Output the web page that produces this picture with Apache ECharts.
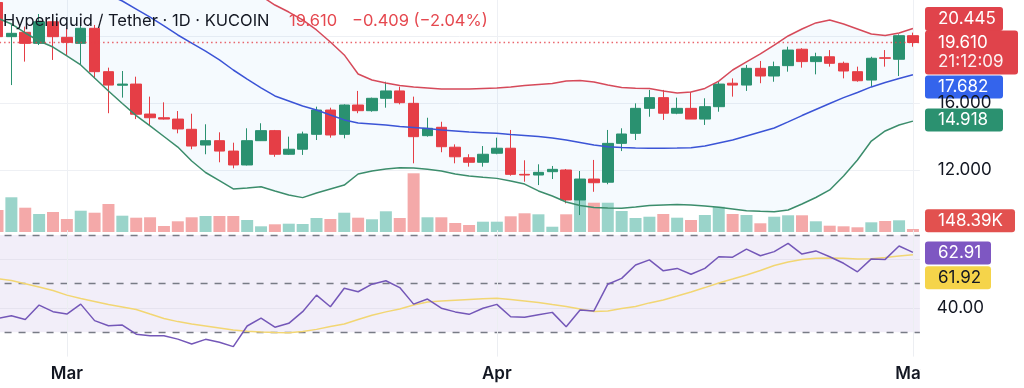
<!DOCTYPE html>
<html><head><meta charset="utf-8">
<script src="https://cdn.jsdelivr.net/npm/echarts@6/dist/echarts.min.js"></script>
<style>html,body{margin:0;padding:0;background:#fff;}#c{width:1024px;height:388px;}</style>
</head><body><div id="c"></div>
<script>
// ---------- DATA ----------
const titleText = 'Hyperliquid / Tether · 1D · KUCOIN';
const countdownText = '21:12:09';
const dates = ['02-24','02-25','02-26','02-27','02-28',
 '03-01','03-02','03-03','03-04','03-05','03-06','03-07','03-08','03-09','03-10',
 '03-11','03-12','03-13','03-14','03-15','03-16','03-17','03-18','03-19','03-20',
 '03-21','03-22','03-23','03-24','03-25','03-26','03-27','03-28','03-29','03-30','03-31',
 '04-01','04-02','04-03','04-04','04-05','04-06','04-07','04-08','04-09','04-10',
 '04-11','04-12','04-13','04-14','04-15','04-16','04-17','04-18','04-19','04-20',
 '04-21','04-22','04-23','04-24','04-25','04-26','04-27','04-28','04-29','04-30','05-01'];
const opens = [22.00,19.96,20.22,19.56,20.85,19.92,19.56,20.46,17.87,17.06,
 17.13,15.34,15.12,15.04,14.43,13.49,13.75,13.13,12.30,13.75,
 14.35,12.94,13.24,14.13,15.58,14.13,15.88,15.54,16.28,16.72,
 15.98,14.05,14.55,13.36,12.73,12.46,13.00,13.30,11.74,11.70,
 11.90,12.00,10.21,11.46,11.27,13.59,14.19,15.68,16.32,15.39,
 15.68,15.04,15.78,17.18,17.07,18.07,17.61,18.23,19.21,18.47,
 18.76,18.37,17.87,17.37,18.70,18.61,20.019];
const highs = [22.30,20.66,20.56,21.31,21.31,20.46,20.66,20.66,18.11,17.91,
 17.57,16.38,16.04,15.52,15.36,14.73,14.25,13.63,14.49,14.79,
 14.39,13.99,14.29,15.78,15.72,15.92,16.72,16.32,17.27,16.97,
 16.38,15.12,14.88,13.53,12.94,13.43,13.93,14.39,12.58,12.34,
 12.24,12.06,11.94,12.60,14.39,14.49,15.98,16.78,16.78,16.32,
 16.67,16.28,17.27,17.47,18.27,18.51,18.47,19.36,19.27,19.00,
 19.16,18.47,18.17,18.76,19.16,20.10,20.20];
const lows = [19.80,17.07,18.47,19.46,18.57,18.87,18.27,17.47,15.39,16.32,
 15.04,14.63,15.01,14.19,13.24,12.94,12.46,12.10,12.27,13.73,
 12.79,12.90,12.90,13.79,13.93,13.89,15.39,15.48,15.72,15.92,
 12.40,13.99,13.06,12.40,12.20,12.20,12.94,11.66,11.30,11.10,
 11.46,10.01,9.31,10.70,11.15,13.13,13.79,15.18,14.99,15.33,
 15.04,14.69,15.48,16.38,16.72,17.18,17.27,17.87,18.11,17.71,
 18.17,17.47,17.27,16.97,18.17,17.61,19.36];
const closes = [19.96,20.16,19.56,20.85,19.96,19.62,20.46,17.87,17.07,17.13,
 15.33,15.12,15.04,14.45,13.43,13.75,13.13,12.30,13.75,14.35,
 12.94,13.24,14.15,15.58,14.09,15.88,15.54,16.28,16.72,16.02,
 13.99,14.49,13.39,12.79,12.46,12.94,13.30,11.74,11.70,11.86,
 12.04,10.21,11.46,11.24,13.59,14.15,15.68,16.32,15.39,15.68,
 15.04,15.78,17.13,17.07,18.07,17.61,18.17,19.16,18.47,18.76,
 18.37,17.91,17.33,18.67,18.67,20.019,19.61];
const volumesK = [1089,1718,1203,891,990,644,1054,955,1386,807,
 708,728,297,530,728,792,792,792,594,282,
 381,411,396,693,644,955,708,629,1025,693,
 2906,728,728,446,347,510,510,777,926,876,
 262,876,1584,1450,1450,1040,693,757,891,708,
 594,842,1252,891,842,431,757,827,827,530,
 312,282,233,480,545,579,148.39];
const bbUpper = [28.12,27.88,27.64,27.40,27.16,26.93,26.69,26.45,26.21,25.97,
 25.73,25.49,25.19,24.90,24.60,24.24,23.82,23.40,22.93,22.39,
 21.85,21.43,20.96,20.36,19.64,18.87,17.73,17.37,17.19,17.04,
 16.96,16.90,16.84,16.84,16.84,16.87,16.90,16.96,17.04,17.10,
 17.16,17.31,17.34,17.25,17.07,16.93,16.88,16.87,16.72,16.60,
 16.66,16.87,17.31,17.97,18.45,18.93,19.46,20.00,20.42,20.78,
 20.96,20.72,20.42,20.12,20.03,20.18,20.445];
const bbBasis = [26.63,26.09,25.55,25.01,24.48,23.94,23.40,22.87,22.45,22.09,
 21.61,21.13,20.60,20.06,19.58,19.10,18.57,17.97,17.43,16.90,
 16.42,16.12,15.82,15.58,15.28,14.99,14.81,14.75,14.69,14.60,
 14.54,14.48,14.39,14.33,14.27,14.23,14.19,14.12,14.06,14.00,
 13.91,13.79,13.64,13.49,13.39,13.34,13.31,13.30,13.30,13.31,
 13.33,13.43,13.61,13.79,14.03,14.27,14.51,14.87,15.25,15.61,
 15.97,16.32,16.63,16.96,17.22,17.46,17.682];
const bbLower = [21.07,20.72,20.18,19.70,19.34,18.81,18.27,17.49,16.72,15.97,
 15.25,14.63,14.00,13.37,12.54,11.85,11.37,10.87,10.93,11.00,
 10.75,10.51,10.35,10.63,10.87,11.10,11.76,11.94,12.06,12.14,
 12.12,12.04,11.94,11.76,11.64,11.56,11.50,11.34,11.16,10.75,
 10.45,10.09,9.88,9.76,9.73,9.71,9.79,9.88,9.91,9.94,
 9.91,9.85,9.77,9.67,9.57,9.53,9.51,9.61,9.97,10.36,
 10.81,11.64,12.60,13.73,14.33,14.69,14.918];
const rsi = [35.7,36.8,35.3,41.2,38.5,37.5,41.6,34.8,32.7,33.0,
 29.2,28.6,28.6,27.2,25.2,27.1,25.9,24.1,32.6,35.8,
 32.1,33.7,38.5,45.3,40.5,48.1,46.7,49.8,51.2,48.4,
 41.6,43.7,39.9,38.4,37.4,39.9,41.5,36.4,36.2,37.2,
 38.2,32.3,39.2,38.8,49.8,52.2,57.7,59.8,55.3,56.3,
 53.9,56.3,61.1,60.9,64.2,61.5,63.2,66.6,62.2,63.5,
 61.1,58.4,54.9,60.2,60.0,65.5,62.91];
const rsiMa = [52.1,51.3,50.0,48.6,47.2,45.3,43.9,42.7,41.4,40.4,
 39.4,37.5,35.7,34.4,33.4,32.6,31.8,30.9,30.4,30.1,
 29.9,29.8,30.3,31.2,32.4,33.4,35.3,37.0,38.4,39.6,
 41.2,42.5,42.9,43.2,43.5,43.8,44.0,43.5,42.9,42.3,
 41.4,40.6,39.6,38.6,38.8,39.8,40.6,42.1,43.3,44.9,
 46.6,48.4,50.3,51.9,53.6,55.4,57.5,58.9,60.0,60.5,
 60.6,60.5,60.2,60.3,60.8,61.4,61.92];
const monthTicks = ['03-01','04-01','05-01'];
const monthLabels = ['Mar','Apr','May'];
const priceTicks = [12, 16];
const priceGridLines = [12, 16, 20];
const rsiTicks = [40];
const rsiBands = [70, 50, 30];
const rsiGridLines = [60, 40];

// ---------- STYLE ----------
const GREEN = '#2a9170', RED = '#e53e46';
const VOL_UP = '#9ad4ca', VOL_DN = '#f4a9a9';
const FONT = 'Inter, "Noto Sans", sans-serif';
const L = -9.43, W = 929.3;

const n = dates.length, last = n - 1;
const candleData = opens.map((o, i) => [o, closes[i], lows[i], highs[i]]);
const volData = volumesK.map((v, i) => ({ value: v, itemStyle: { color: closes[i] >= opens[i] ? VOL_UP : VOL_DN } }));
const bandFill = bbUpper.map((u, i) => u - bbLower[i]);

const chart = echarts.init(document.getElementById('c'), null, { renderer: 'canvas' });
const gridBase = { left: L, width: W, containLabel: false, outerBoundsMode: 'none' };
const option = {
  animation: false,
  backgroundColor: '#ffffff',
  grid: [
    Object.assign({ top: 0, height: 237 }, gridBase),
    Object.assign({ top: 132, height: 100 }, gridBase),
    Object.assign({ top: 230.24, height: 126.36 }, gridBase)
  ],
  xAxis: [
    { type: 'category', gridIndex: 0, data: dates, show: false },
    { type: 'category', gridIndex: 1, data: dates, show: false },
    { type: 'category', gridIndex: 2, data: dates,
      axisLine: { show: false }, axisTick: { show: false }, splitLine: { show: false },
      axisLabel: { interval: (i, v) => monthTicks.includes(v), formatter: v => monthLabels[monthTicks.indexOf(v)] || '',
        fontFamily: FONT, fontSize: 17, fontWeight: 600, color: '#131722', margin: 9, hideOverlap: false } }
  ],
  yAxis: [
    { type: 'value', gridIndex: 0, position: 'right', min: 8, max: 22.149, interval: 4, scale: true,
      splitLine: { show: false }, axisLine: { show: false }, axisTick: { show: false },
      axisLabel: { margin: 18, fontFamily: FONT, fontSize: 17, color: '#131722',
        showMinLabel: false, showMaxLabel: false,
        formatter: v => priceTicks.includes(v) ? v.toFixed(3) : '' } },
    { type: 'value', gridIndex: 1, min: 0, max: 4950, show: false },
    { type: 'value', gridIndex: 2, position: 'right', min: 20, max: 72, interval: 10,
      splitLine: { show: false }, axisLine: { show: false }, axisTick: { show: false },
      axisLabel: { margin: 17, fontFamily: FONT, fontSize: 17, color: '#131722',
        formatter: v => rsiTicks.includes(v) ? v.toFixed(2) : '' } }
  ],
  series: [
    { name: 'vol', type: 'bar', xAxisIndex: 1, yAxisIndex: 1, data: volData, barWidth: 12, z: 1, silent: true },
    { name: 'bbBase', type: 'line', xAxisIndex: 0, yAxisIndex: 0, data: bbLower, stack: 'bb', symbol: 'none',
      lineStyle: { opacity: 0 }, z: 1, silent: true,
      markLine: { silent: true, symbol: ['none', 'none'], z: 0, label: { show: false },
        data: priceGridLines.map(v => ({ yAxis: v, lineStyle: { color: '#eef0f4', width: 1, type: 'solid' } }))
          .concat(monthTicks.map(d => ({ xAxis: d, lineStyle: { color: '#eef0f4', width: 1, type: 'solid' } }))) } },
    { name: 'bbFill', type: 'line', xAxisIndex: 0, yAxisIndex: 0, data: bandFill, stack: 'bb', symbol: 'none',
      lineStyle: { opacity: 0 }, areaStyle: { color: 'rgba(33,150,243,0.065)' }, z: 1, silent: true },
    { name: 'price', type: 'candlestick', xAxisIndex: 0, yAxisIndex: 0, data: candleData, barWidth: 11, z: 3,
      itemStyle: { color: GREEN, color0: RED, borderColor: GREEN, borderColor0: RED, borderWidth: 1 },
      markLine: { silent: true, symbol: ['none', 'none'], label: { show: false },
        data: [{ yAxis: closes[last], lineStyle: { color: RED, width: 1.3, type: [1.5, 3], opacity: 0.8 } }] } },
    { name: 'upper', type: 'line', xAxisIndex: 0, yAxisIndex: 0, data: bbUpper, symbol: 'none', z: 4,
      lineStyle: { color: '#d64a5a', width: 1.5 }, silent: true },
    { name: 'basis', type: 'line', xAxisIndex: 0, yAxisIndex: 0, data: bbBasis, symbol: 'none', z: 4,
      lineStyle: { color: '#3b54d6', width: 1.5 }, silent: true },
    { name: 'lower', type: 'line', xAxisIndex: 0, yAxisIndex: 0, data: bbLower, symbol: 'none', z: 4,
      lineStyle: { color: '#3c8d6c', width: 1.5 }, silent: true },
    { name: 'rsiMa', type: 'line', xAxisIndex: 2, yAxisIndex: 2, data: rsiMa, symbol: 'none', z: 4,
      lineStyle: { color: '#f2d673', width: 1.5 }, silent: true },
    { name: 'rsi', type: 'line', xAxisIndex: 2, yAxisIndex: 2, data: rsi, symbol: 'none', z: 5,
      lineStyle: { color: '#7457b8', width: 1.5 }, silent: true,
      markArea: { silent: true, z: 1, itemStyle: { color: 'rgba(126,87,194,0.1)' },
        data: [[{ yAxis: rsiBands[2] }, { yAxis: rsiBands[0] }]] },
      markLine: { silent: true, symbol: ['none', 'none'], z: 3, label: { show: false },
        data: rsiBands.map(v => ({ yAxis: v, lineStyle: { color: '#787b86', width: 1.3, type: [7, 7] } }))
          .concat(rsiGridLines.map(v => ({ yAxis: v, lineStyle: { color: '#e6e3ef', width: 1, type: 'solid' } })))
          .concat(monthTicks.map(d => ({ xAxis: d, lineStyle: { color: '#eceef2', width: 1, type: 'solid' } }))) } }
  ]
};
chart.setOption(option);

// ---------- right-scale labels & legend ----------
const prevClose = closes[last - 1];
const chg = closes[last] - prevClose;
const pct = chg / prevClose * 100;
const chgText = (chg < 0 ? '\u2212' : '+') + Math.abs(chg).toFixed(3) + ' (' + (pct < 0 ? '\u2212' : '+') + Math.abs(pct).toFixed(2) + '%)';

const py = (ax, v) => chart.convertToPixel({ yAxisIndex: ax }, v);
function box(cy, w, h, fill, lines, txtColor) {
  const children = [{ type: 'rect', shape: { x: 0, y: 0, width: w, height: h, r: 3 }, style: { fill: fill } }];
  lines.forEach((t, k) => {
    children.push({ type: 'text', style: { text: t, x: 13, y: h / 2 + (k - (lines.length - 1) / 2) * 19.5,
      textVerticalAlign: 'middle', verticalAlign: 'middle', textAlign: 'left', align: 'left',
      font: '17px ' + FONT, fill: txtColor || '#ffffff', opacity: k > 0 ? 0.92 : 1 } });
  });
  return { type: 'group', x: 925, y: cy - h / 2, z: 100, children: children };
}
const graphics = [
  { type: 'rect', shape: { x: 921, y: 358, width: 103, height: 30 }, style: { fill: '#ffffff' }, z: 90 },
  { type: 'text', x: 3, y: 21, z: 50, style: { text: titleText, font: '16.5px ' + FONT, fill: '#131722', textVerticalAlign: 'middle', verticalAlign: 'middle' } },
  { type: 'text', x: 289, y: 21, z: 50, style: { text: closes[last].toFixed(3), font: '16.5px ' + FONT, fill: '#e5484f', textVerticalAlign: 'middle', verticalAlign: 'middle' } },
  { type: 'text', x: 352, y: 21, z: 50, style: { text: chgText, font: '16.5px ' + FONT, fill: '#e5484f', textVerticalAlign: 'middle', verticalAlign: 'middle' } },
  box(py(0, bbUpper[last]) - 9.5, 78, 24, '#e0434b', [bbUpper[last].toFixed(3)]),
  box(py(0, closes[last]) + 10, 93, 44, '#e0434b', [closes[last].toFixed(3), countdownText]),
  box(py(0, bbBasis[last]) + 12.2, 78, 23, '#3464ec', [bbBasis[last].toFixed(3)]),
  box(py(0, bbLower[last]) - 1, 78, 23, '#2b9170', [bbLower[last].toFixed(3)]),
  box(py(1, volumesK[last]) - 8.3, 90, 23, '#e2514f', [volumesK[last].toFixed(2) + 'K']),
  box(py(2, rsi[last]) + 0.7, 66, 23, '#7e57c2', [rsi[last].toFixed(2)]),
  box(py(2, rsiMa[last]) + 23, 66, 23, '#f5d44a', [rsiMa[last].toFixed(2)], '#131722')
];
chart.setOption({ graphic: graphics });
</script>
</body></html>
